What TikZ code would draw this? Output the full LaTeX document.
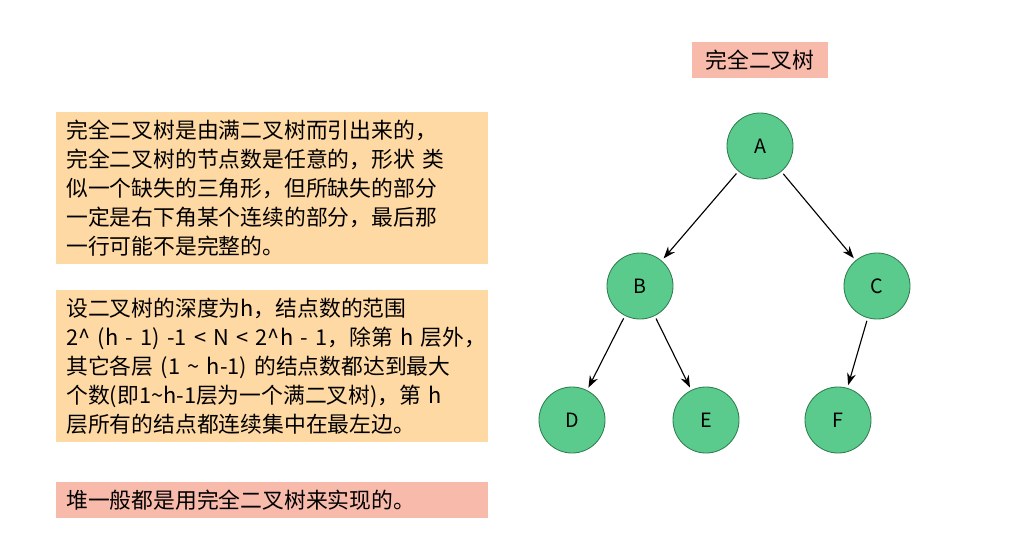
\documentclass[tikz,border=0pt]{standalone}
\usepackage{fontspec}
\setmainfont{Noto Sans CJK SC}
\usetikzlibrary{positioning,arrows.meta}
\definecolor{nodegreen}{HTML}{5ACB8C}
\definecolor{nodeline}{HTML}{2E7D4F}
\definecolor{boxorange}{HTML}{FFD9A3}
\definecolor{boxsalmon}{HTML}{F8BAAB}
\begin{document}
\begin{tikzpicture}[x=0.025cm, y=-0.025cm,
    treenode/.style={circle, draw=nodeline, fill=nodegreen, line width=0.6pt,
                     minimum size=1.65cm, inner sep=0pt, font=\fontsize{14}{16}\selectfont},
    textbox/.style={rectangle, fill=boxorange, anchor=north west, text width=10.3cm,
                    inner xsep=0.25cm, inner ysep=0pt, align=left,
                    font=\fontsize{15.5}{20.6}\selectfont},
    edge/.style={-{Stealth[length=3mm,width=2.2mm]}, line width=0.8pt, shorten <=2pt, shorten >=2pt}]
  \useasboundingbox (0,0) rectangle (1031,559);
  % title
  \node[fill=boxsalmon, minimum width=3.4cm, minimum height=0.9cm,
        font=\fontsize{15.5}{18}\selectfont] (title) at (760,60) {完全二叉树};
  % text boxes
  \node[textbox, minimum height=3.8cm] (box1) at (56,112) {完全二叉树是由满二叉树而引出来的，\\完全二叉树的节点数是任意的，形状 类\\似一个缺失的三角形，但所缺失的部分\\一定是右下角某个连续的部分，最后那\\一行可能不是完整的。};
  \node[textbox, minimum height=3.8cm] (box2) at (56,290) {设二叉树的深度为h，结点数的范围\\\makebox[0pt][l]{2\^{} (h - 1) -1 < N < 2\^{}h - 1，除第 h 层外，}\\其它各层 (1 \textasciitilde{} h-1) 的结点数都达到最大\\个数(即1\textasciitilde{}h-1层为一个满二叉树)，第 h\\层所有的结点都连续集中在最左边。};
  \node[textbox, fill=boxsalmon, minimum height=0.9cm] (box3) at (56,482) {堆一般都是用完全二叉树来实现的。};
  % tree
  \node[treenode] (A) at (760,146) {A};
  \node[treenode] (B) at (640,286) {B};
  \node[treenode] (C) at (877,286) {C};
  \node[treenode] (D) at (572,420) {D};
  \node[treenode] (E) at (706,420) {E};
  \node[treenode] (F) at (838,420) {F};
  \draw[edge] (A) -- (B);
  \draw[edge] (A) -- (C);
  \draw[edge] (B) -- (D);
  \draw[edge] (B) -- (E);
  \draw[edge] (C) -- (F);
\end{tikzpicture}
\end{document}
